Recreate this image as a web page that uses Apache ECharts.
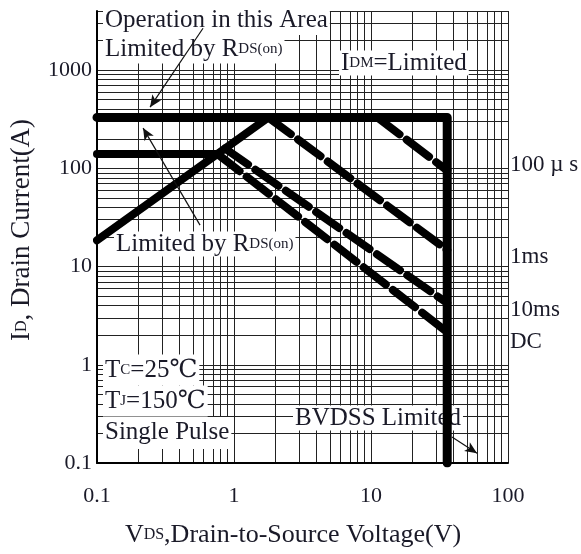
<!DOCTYPE html>
<html><head><meta charset="utf-8">
<script src="https://cdn.jsdelivr.net/npm/echarts@6/dist/echarts.min.js"></script>
<style>html,body{margin:0;padding:0;background:#fff}#c{width:581px;height:554px}</style>
</head><body><div id="c"></div>
<script>
// ---- axis structure ----
const xMin = 0.1, xMax = 100;
const yMin = 0.1, yMax = 4000;
const xMinorGrid = [0.2,0.3,0.4,0.5,0.6,0.7,0.8,0.9, 2,3,4,5,6,7,8,9, 20,30,40,50,60,70,80,90];
const yMinorGrid = [0.2,0.3,0.4,0.5,0.6,0.7,0.8,0.9, 2,3,4,5,6,7,8,9, 20,30,40,50,60,70,80,90, 200,300,400,500,600,700,800,900, 2000,3000];
const xTickLabels = [0.1, 1, 10, 100];
const yTickLabels = [0.1, 1, 10, 100, 1000];

// ---- curves (V, A) ----
const idmV = [0.1, 36, 36];        const idmI = [330, 330, 0.1];
const rdsV = [0.1, 1.78];          const rdsI = [18.5, 330];
const dcFlatV = [0.1, 0.757];      const dcFlatI = [140, 140];
const dcV = [0.757, 36];           const dcI = [140, 2.15];
const ms10V = [0.86, 36];          const ms10I = [159, 4.25];
const ms1V = [1.78, 36];           const ms1I = [330, 14.7];
const us100V = [11.1, 36];         const us100I = [330, 95];

// ---- annotation arrows (from, to) in data coords ----
const arrowFrom = [[0.594, 2670], [0.565, 26.4], [39, 0.184]];
const arrowTo   = [[0.244, 420],  [0.217, 257],  [59.4, 0.126]];

const FONT = '"Liberation Serif", "Times New Roman", "DejaVu Serif", serif';
const TXT = '#1a1a28';

function pts(vs, is) { return vs.map((v, i) => [v, is[i]]); }
function curve(data, dashed, w) {
  return { type: 'line', data, z: 3, symbol: 'none', silent: true, animation: false,
    lineStyle: { color: '#000', width: w, type: dashed ? [28, 9] : 'solid', cap: 'round', join: 'round' } };
}
function rich(fs, ss) {
  return { a: { fontSize: fs, fontFamily: FONT, fill: TXT }, s: { fontSize: ss, fontFamily: FONT, fill: TXT } };
}
function label(x, y, text, bg, pad, fs) {
  fs = fs || 25;
  return { type: 'text', x, y, z: 1, silent: true,
    style: { text, fontSize: fs, fontFamily: FONT, fill: TXT, verticalAlign: 'middle',
      backgroundColor: bg === false ? null : '#fff', padding: pad || [0, 2, 0, 2], rich: rich(fs, 15) } };
}

const chart = echarts.init(document.getElementById('c'), null, { renderer: 'canvas' });
chart.setOption({
  animation: false,
  backgroundColor: '#fff',
  grid: { left: 97, right: 73, top: 11, bottom: 91, containLabel: false },
  xAxis: {
    type: 'log', logBase: 10, min: xMin, max: xMax,
    axisLine: { show: true, lineStyle: { color: '#000', width: 2 } },
    axisTick: { show: false },
    splitLine: { show: true, lineStyle: { color: '#222', width: 1 } },
    axisLabel: { margin: 22, fontSize: 22, fontFamily: FONT, color: TXT,
      formatter: v => xTickLabels.some(t => Math.abs(t - v) / t < 1e-6) ? String(v) : '' }
  },
  yAxis: {
    type: 'log', logBase: 10, min: yMin, max: yMax,
    axisLine: { show: true, lineStyle: { color: '#000', width: 2 } },
    axisTick: { show: false },
    splitLine: { show: true, lineStyle: { color: '#222', width: 1 } },
    axisLabel: { margin: 5, fontSize: 22, fontFamily: FONT, color: TXT,
      formatter: v => yTickLabels.some(t => Math.abs(t - v) / t < 1e-6) ? String(v) : '' }
  },
  graphic: [
    label(103, 20, 'Operation in this Area', true, [3, 2, 2, 2]),
    label(103, 49, '{a|Limited by R}{s|DS(on)}', true, [2, 2, 2, 2]),
    label(339, 63, '{a|I}{s|DM}{a|=Limited}'),
    label(114, 244, '{a|Limited by R}{s|DS(on)}'),
    label(508, 165, '100 µ s', false, null, 23),
    label(508, 257, '1ms', false, null, 23),
    label(508, 310, '10ms', false, null, 23),
    label(508, 342, 'DC', false, null, 23),
    label(103, 370, '{a|T}{s|C}{a|=25℃}', true, [3, 2, 3, 2]),
    label(103, 401, '{a|T}{s|J}{a|=150℃}', true, [3, 2, 3, 2]),
    label(103, 433, 'Single Pulse', true, [3, 2, 4, 2]),
    label(293, 418, 'BVDSS Limited'),
    { type: 'text', x: 22, y: 230, rotation: Math.PI / 2, z: 1, silent: true,
      style: { text: '{a|I}{s|D}{a|, Drain Current(A)}', align: 'center', verticalAlign: 'middle',
        fontSize: 27, fontFamily: FONT, fill: TXT, rich: rich(27, 16) } },
    { type: 'text', x: 293, y: 535, z: 1, silent: true,
      style: { text: '{a|V}{s|DS}{a|,Drain-to-Source Voltage(V)}', align: 'center', verticalAlign: 'middle',
        fontSize: 26, fontFamily: FONT, fill: TXT, rich: rich(26, 16) } }
  ],
  series: [
    { type: 'line', data: [[xMin, yMin]], symbol: 'none', silent: true, z: 0,
      lineStyle: { opacity: 0 },
      markLine: { silent: true, z: 0, symbol: 'none', animation: false, label: { show: false },
        lineStyle: { color: '#222', width: 1, type: 'solid' },
        data: xMinorGrid.map(v => ({ xAxis: v })).concat(yMinorGrid.map(v => ({ yAxis: v }))) } },
    curve(pts(rdsV, rdsI), false, 8),
    curve(pts(dcFlatV, dcFlatI), false, 8),
    curve(pts(dcV, dcI), true, 8),
    curve(pts(ms10V, ms10I), true, 8),
    curve(pts(ms1V, ms1I), true, 8),
    curve(pts(us100V, us100I), true, 8),
    curve(pts(idmV, idmI), false, 9),
    { type: 'line', data: [[xMin, yMin]], symbol: 'none', silent: true, z: 4,
      lineStyle: { opacity: 0 },
      markLine: { silent: true, z: 4, symbol: ['none', 'arrow'], symbolSize: [8, 12], animation: false,
        label: { show: false }, lineStyle: { color: '#111', width: 1.2, type: 'solid' },
        data: arrowFrom.map((f, i) => [{ coord: f }, { coord: arrowTo[i] }]) } }
  ]
});
</script></body></html>
